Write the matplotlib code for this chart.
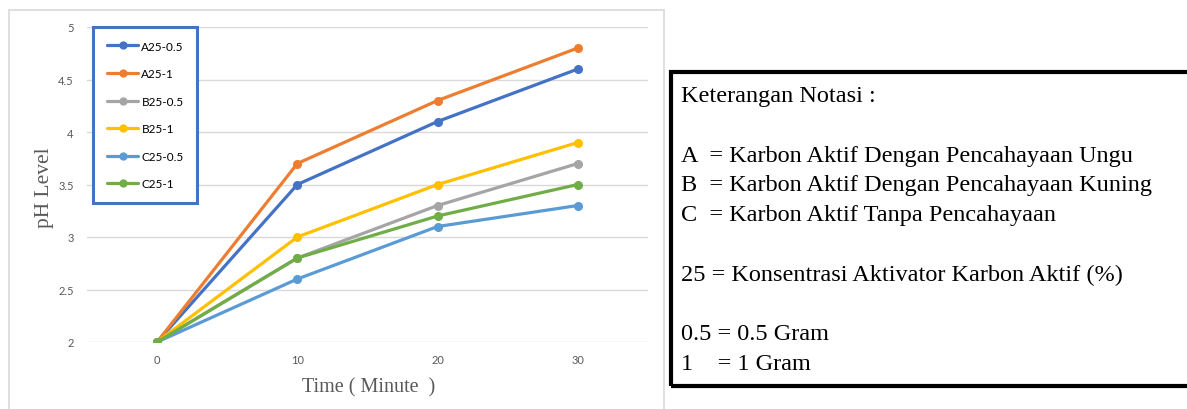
import matplotlib
matplotlib.use('Agg')
from matplotlib import pyplot as plt
from matplotlib.patches import Rectangle


TIMES = [0, 10, 20, 30]
SERIES_NAMES = ['A25-0.5', 'A25-1', 'B25-0.5', 'B25-1', 'C25-0.5', 'C25-1']
A25_05 = [2.0, 3.5, 4.1, 4.6]
A25_1 = [2.0, 3.7, 4.3, 4.8]
B25_05 = [2.0, 2.8, 3.3, 3.7]
B25_1 = [2.0, 3.0, 3.5, 3.9]
C25_05 = [2.0, 2.6, 3.1, 3.3]
C25_1 = [2.0, 2.8, 3.2, 3.5]
COLORS = ['#4472C4', '#ED7D31', '#A5A5A5', '#FFC000', '#5B9BD5', '#70AD47']

Y_TICKS = [2, 2.5, 3, 3.5, 4, 4.5, 5]
Y_TICK_LABELS = ['2', '2.5', '3', '3.5', '4', '4.5', '5']

NOTES = [
    'Keterangan Notasi :',
    '',
    'A  = Karbon Aktif Dengan Pencahayaan Ungu',
    'B  = Karbon Aktif Dengan Pencahayaan Kuning',
    'C  = Karbon Aktif Tanpa Pencahayaan',
    '',
    '25 = Konsentrasi Aktivator Karbon Aktif (%)',
    '',
    '0.5 = 0.5 Gram',
    '1    = 1 Gram',
]

W, H = 1187, 410
SERIF = ['Liberation Serif', 'DejaVu Serif']
SANS = ['Lato', 'DejaVu Sans']


def px(x, y):
    # pixel position (from top-left) -> figure fraction
    return x / W, 1 - y / H


def main():
    fig = plt.figure(figsize=(W / 100, H / 100), dpi=100)

    # light frame around the chart
    x0, y0 = px(9, 11)
    x1, y1 = px(664, 420)
    fig.patches.append(Rectangle((x0, y1), x1 - x0, y0 - y1, transform=fig.transFigure,
                                 fill=False, edgecolor='#d9d9d9', linewidth=1.2))

    left, top = px(87, 28)
    right, bottom = px(648, 343)
    ax = fig.add_axes([left, bottom, right - left, top - bottom])

    all_series = [A25_05, A25_1, B25_05, B25_1, C25_05, C25_1]
    for name, values, color in zip(SERIES_NAMES, all_series, COLORS):
        ax.plot(TIMES, values, color=color, linewidth=2.3, marker='o', markersize=5.5,
                label=name, solid_capstyle='round', zorder=3)

    ax.set_xlim(-5, 35)
    ax.set_ylim(2, 5)
    ax.set_xticks(TIMES)
    ax.set_xticklabels([str(t) for t in TIMES])
    ax.set_yticks(Y_TICKS)
    ax.set_yticklabels(Y_TICK_LABELS)
    ax.grid(axis='y', color='#d9d9d9', linewidth=1)
    ax.set_axisbelow(True)
    for s in ax.spines.values():
        s.set_visible(False)
    ax.tick_params(length=0, labelsize=8, labelcolor='#595959')
    ax.tick_params(axis='y', pad=9.5)
    ax.tick_params(axis='x', pad=8.5)
    for lab in ax.get_xticklabels() + ax.get_yticklabels():
        lab.set_family(SANS)

    # axis titles
    tx, ty = px(44, 188)
    fig.text(tx, ty, 'pH Level', family=SERIF, fontsize=15.5, color='#595959',
             rotation=90, ha='center', va='center')
    tx, ty = px(369, 392)
    fig.text(tx, ty, 'Time ( Minute  )', family=SERIF, fontsize=14.5, color='#595959',
             ha='center', va='baseline')

    lx, ly = px(93, 28)
    leg = ax.legend(loc='upper left', bbox_to_anchor=(lx, ly), bbox_transform=fig.transFigure,
                    borderaxespad=0, fancybox=False, framealpha=1, edgecolor='#4472C4',
                    prop={'family': SANS, 'size': 8.5},
                    handlelength=2.7, handletextpad=0.25, borderpad=1.15, labelspacing=1.4,
                    markerscale=0.9)
    leg.get_frame().set_linewidth(2.2)

    # notation box on the right
    bx0, by0 = px(671, 72.5)
    bx1, by1 = px(1200, 386.5)
    fig.patches.append(Rectangle((bx0, by1), bx1 - bx0, by0 - by1, transform=fig.transFigure,
                                 fill=False, edgecolor='black', linewidth=3))

    base = 102
    step = 29.8
    for i, line in enumerate(NOTES):
        if not line:
            continue
        tx, ty = px(681, base + i * step)
        fig.text(tx, ty, line, family=SERIF, fontsize=17.5, color='black',
                 va='baseline', ha='left')

    fig.savefig('out.png', dpi=100)


if __name__ == '__main__':
    main()
